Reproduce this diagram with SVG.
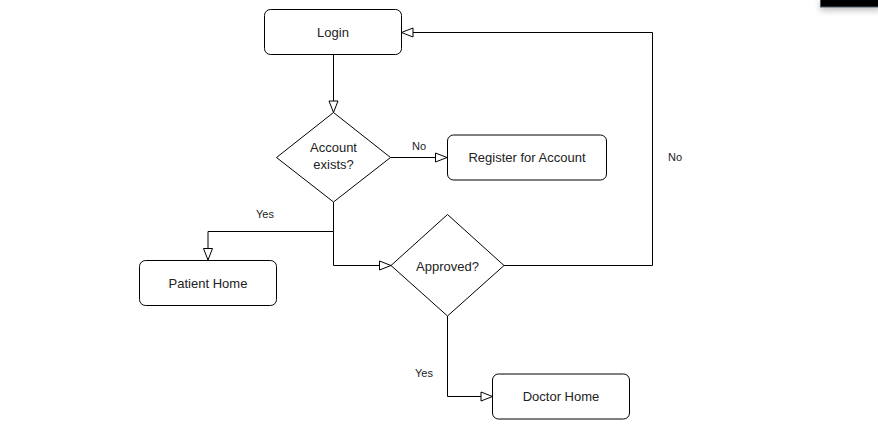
<svg xmlns="http://www.w3.org/2000/svg" width="878" height="425" viewBox="0 0 878 425">
  <defs>
    <marker id="arrow" markerUnits="userSpaceOnUse" markerWidth="14" markerHeight="12" refX="12" refY="5" orient="auto" overflow="visible">
      <path d="M0.5,0.5 L12,5 L0.5,9.5 Z" fill="#fff" stroke="#000" stroke-width="1"/>
    </marker>
    <filter id="shadow" x="-20%" y="-50%" width="140%" height="300%">
      <feGaussianBlur in="SourceAlpha" stdDeviation="3"/>
      <feOffset dy="3"/>
      <feComponentTransfer><feFuncA type="linear" slope="0.25"/></feComponentTransfer>
      <feMerge><feMergeNode/><feMergeNode in="SourceGraphic"/></feMerge>
    </filter>
  </defs>
  <style>
    .box { fill: #fff; stroke: #000; stroke-width: 1; }
    .edge { fill: none; stroke: #000; stroke-width: 1; }
    .t { font-family: "Liberation Sans", Arial, sans-serif; font-size: 13px; fill: #222; text-anchor: middle; dominant-baseline: central; }
    .lbl { font-family: "Liberation Sans", Arial, sans-serif; font-size: 11px; fill: #222; text-anchor: middle; dominant-baseline: central; }
  </style>
  <rect width="878" height="425" fill="#fff"/>

  <rect x="820.5" y="-2" width="60" height="9" fill="#000" stroke="#4a5a66" stroke-width="1" filter="url(#shadow)"/>

  <g id="connectors">
    <path class="edge" d="M333.5,55 L333.5,112.5" marker-end="url(#arrow)"/>
    <path class="edge" d="M390.5,157.5 L447,157.5" marker-end="url(#arrow)"/>
    <path class="edge" d="M333.5,202 L333.5,231.5 L208,231.5 L208,260" marker-end="url(#arrow)"/>
    <path class="edge" d="M333.5,231.5 L333.5,265.5 L391,265.5" marker-end="url(#arrow)"/>
    <path class="edge" d="M447.5,316 L447.5,396.5 L492.5,396.5" marker-end="url(#arrow)"/>
    <path class="edge" d="M504,265.5 L652.5,265.5 L652.5,32.5 L401.5,32.5" marker-end="url(#arrow)"/>
    <text class="lbl" x="419" y="146">No</text>
    <text class="lbl" x="265" y="214">Yes</text>
    <text class="lbl" x="424" y="373">Yes</text>
    <text class="lbl" x="675" y="157">No</text>
  </g>

  <g id="login">
    <rect class="box" x="264.5" y="9.5" width="137" height="45" rx="6"/>
    <text class="t" x="333" y="32">Login</text>
  </g>

  <g id="account-exists">
    <path class="box" d="M333.5,112.5 L390.5,157.5 L333.5,202 L276.5,157.5 Z"/>
    <text class="t" x="333.5" y="147">Account</text>
    <text class="t" x="333.5" y="164.5">exists?</text>
  </g>

  <g id="register">
    <rect class="box" x="447.5" y="135" width="159" height="45" rx="6"/>
    <text class="t" x="527" y="157.5">Register for Account</text>
  </g>

  <g id="patient-home">
    <rect class="box" x="139.5" y="260.5" width="137" height="45" rx="6"/>
    <text class="t" x="208" y="283">Patient Home</text>
  </g>

  <g id="approved">
    <path class="box" d="M447.5,214.5 L504,265.5 L447.5,316 L391,265.5 Z"/>
    <text class="t" x="447.5" y="266.5">Approved?</text>
  </g>

  <g id="doctor-home">
    <rect class="box" x="492.5" y="374" width="137" height="45" rx="6"/>
    <text class="t" x="561" y="396.5">Doctor Home</text>
  </g>
</svg>
